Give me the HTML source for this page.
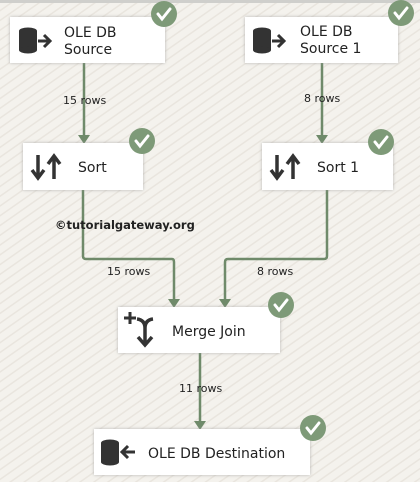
<!DOCTYPE html>
<html><head><meta charset="utf-8"><style>
html,body{margin:0;padding:0;width:420px;height:482px;overflow:hidden;}
svg{display:block;}
text{font-family:"DejaVu Sans","Liberation Sans",sans-serif;fill:#222;}
</style></head><body>
<svg width="420" height="482" viewBox="0 0 420 482" xmlns="http://www.w3.org/2000/svg">
<defs>
<pattern id="st" width="8" height="8" patternUnits="userSpaceOnUse" patternTransform="rotate(-35)">
<rect width="8" height="8" fill="#f4f2ed"/><rect width="8" height="1.5" fill="#e9e5de"/>
</pattern>
<filter id="sh" x="-10%" y="-20%" width="120%" height="140%"><feDropShadow dx="0" dy="0" stdDeviation="1.5" flood-color="#999" flood-opacity="0.7"/></filter>
<g id="ck"><circle r="13" fill="#7e9a78"/><path d="M-6,0 L-2,5 L6,-5" stroke="#fff" stroke-width="3" fill="none" stroke-linecap="round"/></g>
<g id="db"><ellipse cx="0" cy="-9" rx="9" ry="3.5" fill="#333"/><rect x="-9" y="-9" width="18" height="19" fill="#333"/><ellipse cx="0" cy="10" rx="9" ry="3.5" fill="#333"/></g>
</defs>
<rect width="420" height="482" fill="url(#st)"/>
<rect width="420" height="3" fill="#cfcfcc"/>
<g stroke="#6f8a6a" stroke-width="2.5" fill="none">
<path d="M84,63 V136"/><path d="M322,63 V136"/>
<path d="M83,190 V256 Q83,259 86,259 H172 Q174,259 174,262 V300"/>
<path d="M327,190 V256 Q327,259 324,259 H228 Q225,259 225,262 V300"/>
<path d="M200,353 V422"/>
</g>
<g fill="#6f8a6a">
<path d="M78,135 H90 L84,144 Z"/><path d="M316,135 H328 L322,144 Z"/>
<path d="M168,299 H180 L174,308 Z"/><path d="M219,299 H231 L225,308 Z"/>
<path d="M194,421 H206 L200,430 Z"/>
</g>
<g fill="#fff" filter="url(#sh)">
<rect x="10" y="17" width="155" height="46"/>
<rect x="245" y="17" width="153" height="46"/>
<rect x="23" y="143" width="120" height="47"/>
<rect x="262" y="143" width="131" height="47"/>
<rect x="118" y="307" width="162" height="46"/>
<rect x="94" y="429" width="216" height="46"/>
</g>
<use href="#db" x="28" y="40"/><path d="M38,41 H49 M44,35 L50,41 L44,47" stroke="#333" stroke-width="3" fill="none"/>
<use href="#db" x="262" y="40"/><path d="M272,41 H283 M278,35 L284,41 L278,47" stroke="#333" stroke-width="3" fill="none"/>
<use href="#db" x="110" y="452"/><path d="M135,452 H122 M128,446 L122,452 L128,458" stroke="#333" stroke-width="3" fill="none"/>
<g stroke="#333" stroke-width="3.5" fill="none">
<path d="M38,155 V177 M32,170 L38,178 L44,170 M54,179 V157 M48,164 L54,156 L60,164"/>
<path d="M277,155 V177 M271,170 L277,178 L283,170 M293,179 V157 M287,164 L293,156 L299,164"/>
<path d="M145,323 V344 M138,337 L145,345 L152,337 M145,328 Q145,320 137,319 M145,328 Q145,320 153,319"/>
<path d="M130,312 V324 M124,318 H136" stroke-width="3"/>
</g>
<g font-size="14">
<text x="64" y="37">OLE DB</text><text x="64" y="54">Source</text>
<text x="300" y="36">OLE DB</text><text x="300" y="53">Source 1</text>
<text x="78" y="172">Sort</text>
<text x="317" y="172">Sort 1</text>
<text x="172" y="336">Merge Join</text>
<text x="148" y="458">OLE DB Destination</text>
</g>
<g font-size="11"><text x="63" y="104">15 rows</text><text x="304" y="102">8 rows</text>
<text x="107" y="275">15 rows</text><text x="257" y="275">8 rows</text><text x="179" y="392">11 rows</text></g>
<text x="55" y="229" font-size="11.5" font-weight="bold" fill="#333">©tutorialgateway.org</text>
<use href="#ck" x="164" y="14"/><use href="#ck" x="401" y="13"/>
<use href="#ck" x="142" y="141"/><use href="#ck" x="381" y="142"/>
<use href="#ck" x="281" y="305"/><use href="#ck" x="313" y="428"/>
</svg>
</body></html>
